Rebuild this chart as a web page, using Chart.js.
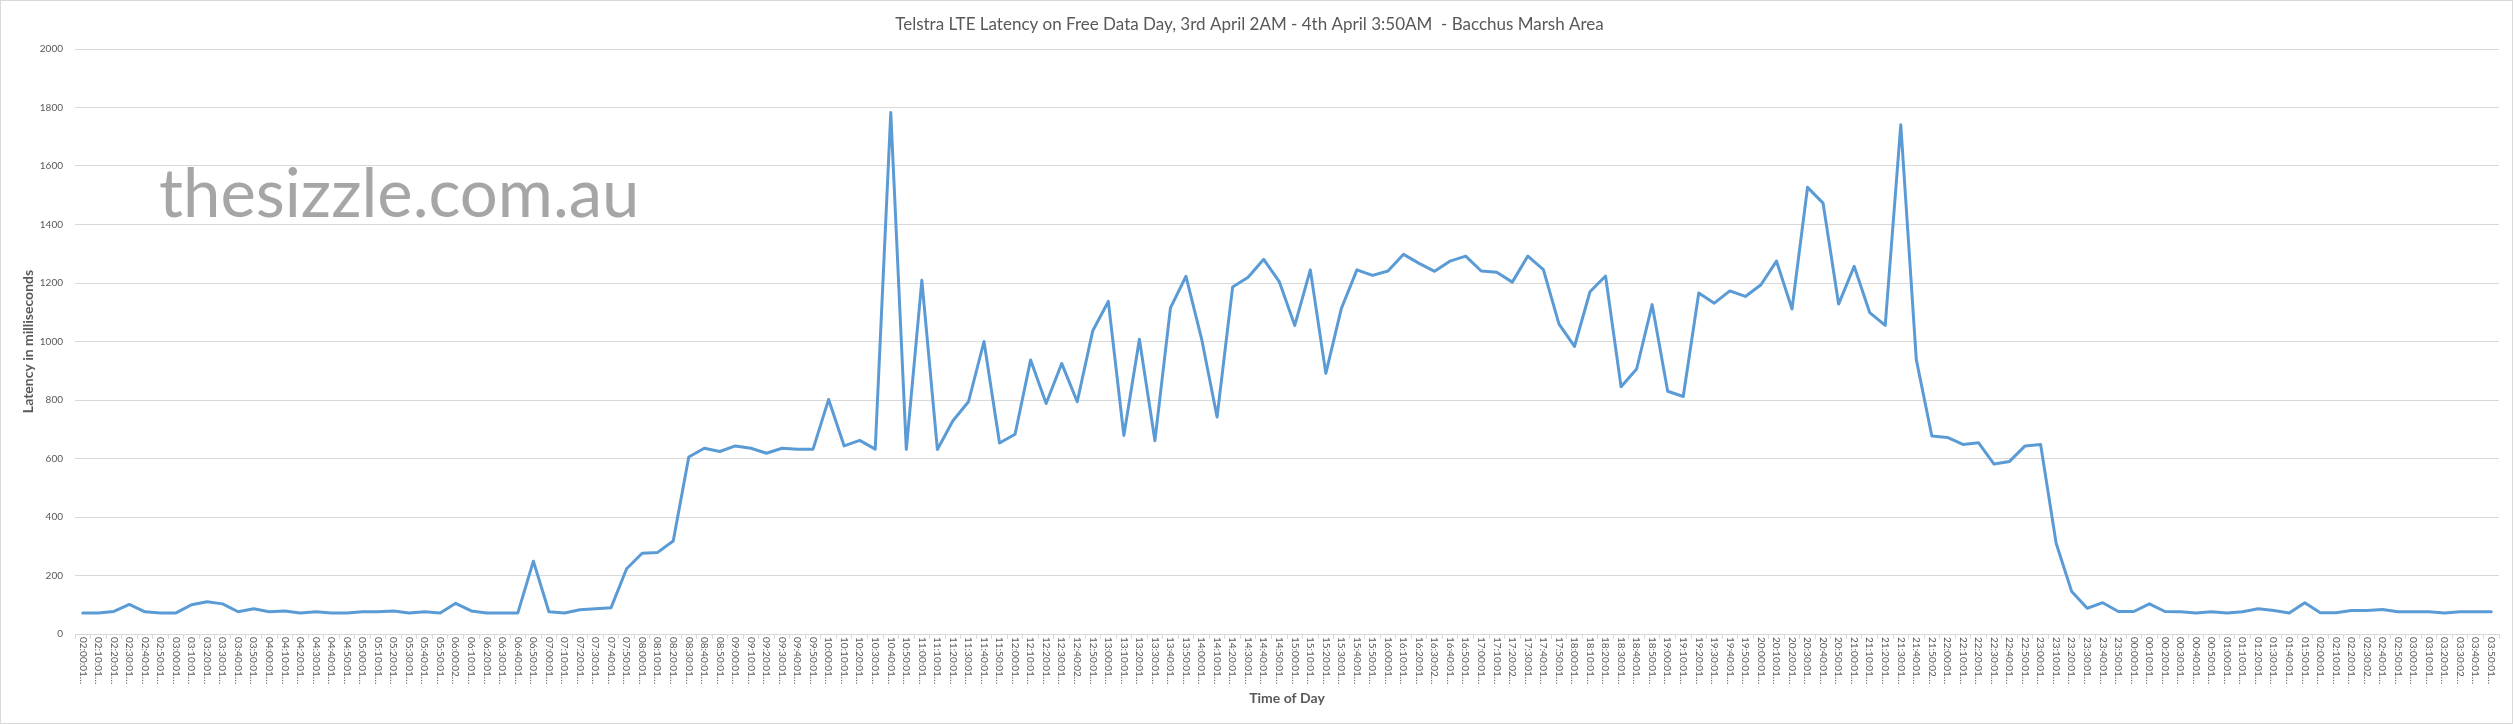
<!DOCTYPE html>
<html>
<head>
<meta charset="utf-8">
<script src="https://cdn.jsdelivr.net/npm/chart.js@4.4.0/dist/chart.umd.min.js"></script>
<style>
html,body{margin:0;padding:0;background:#fff;overflow:hidden}
canvas{display:block}
</style>
</head>
<body>
<canvas id="c" width="2513" height="724"></canvas>
<script>
const chartTitle = "Telstra LTE Latency on Free Data Day, 3rd April 2AM - 4th April 3:50AM  - Bacchus Marsh Area";
const yAxisTitle = "Latency in milliseconds";
const xAxisTitle = "Time of Day";
const watermarkText = "thesizzle.com.au";

const timeLabels = [
"02:00:01…","02:10:01…","02:20:01…","02:30:01…","02:40:01…","02:50:01…",
"03:00:01…","03:10:01…","03:20:01…","03:30:01…","03:40:01…","03:50:01…",
"04:00:01…","04:10:01…","04:20:01…","04:30:01…","04:40:01…","04:50:01…",
"05:00:01…","05:10:01…","05:20:01…","05:30:01…","05:40:01…","05:50:01…",
"06:00:02…","06:10:01…","06:20:01…","06:30:01…","06:40:01…","06:50:01…",
"07:00:01…","07:10:01…","07:20:01…","07:30:01…","07:40:01…","07:50:01…",
"08:00:01…","08:10:01…","08:20:01…","08:30:01…","08:40:01…","08:50:01…",
"09:00:01…","09:10:01…","09:20:01…","09:30:01…","09:40:01…","09:50:01…",
"10:00:01…","10:10:01…","10:20:01…","10:30:01…","10:40:01…","10:50:01…",
"11:00:01…","11:10:01…","11:20:01…","11:30:01…","11:40:01…","11:50:01…",
"12:00:01…","12:10:01…","12:20:01…","12:30:01…","12:40:02…","12:50:01…",
"13:00:01…","13:10:01…","13:20:01…","13:30:01…","13:40:01…","13:50:01…",
"14:00:01…","14:10:01…","14:20:01…","14:30:01…","14:40:01…","14:50:01…",
"15:00:01…","15:10:01…","15:20:01…","15:30:01…","15:40:01…","15:50:01…",
"16:00:01…","16:10:01…","16:20:01…","16:30:02…","16:40:01…","16:50:01…",
"17:00:01…","17:10:01…","17:20:02…","17:30:01…","17:40:01…","17:50:01…",
"18:00:01…","18:10:01…","18:20:01…","18:30:01…","18:40:01…","18:50:01…",
"19:00:01…","19:10:01…","19:20:01…","19:30:01…","19:40:01…","19:50:01…",
"20:00:01…","20:10:01…","20:20:01…","20:30:01…","20:40:01…","20:50:01…",
"21:00:01…","21:10:01…","21:20:01…","21:30:01…","21:40:01…","21:50:02…",
"22:00:01…","22:10:01…","22:20:01…","22:30:01…","22:40:01…","22:50:01…",
"23:00:01…","23:10:01…","23:20:01…","23:30:01…","23:40:01…","23:50:01…",
"00:00:01…","00:10:01…","00:20:01…","00:30:01…","00:40:01…","00:50:01…",
"01:00:01…","01:10:01…","01:20:01…","01:30:01…","01:40:01…","01:50:01…",
"02:00:01…","02:10:01…","02:20:01…","02:30:02…","02:40:01…","02:50:01…",
"03:00:01…","03:10:01…","03:20:01…","03:30:02…","03:40:01…","03:50:01…"
];

const latencyMs = [
72,72,77,101,76,72,
72,100,110,103,76,86,
76,79,72,76,72,72,
76,76,79,72,76,72,
105,79,72,72,72,249,
76,72,83,86,90,223,
276,279,318,605,635,624,
643,635,618,635,632,632,
802,643,662,632,1783,631,
1209,631,729,794,1000,653,
683,937,788,925,794,1037,
1137,679,1008,661,1115,1223,
1010,742,1186,1220,1281,1205,
1055,1245,891,1113,1245,1226,
1241,1298,1267,1240,1275,1292,
1241,1237,1203,1292,1246,1060,
983,1170,1224,845,906,1126,
830,812,1166,1131,1173,1154,
1194,1275,1111,1527,1473,1128,
1257,1099,1055,1741,938,677,
672,648,654,581,590,643,
648,310,145,88,107,77,
77,103,77,76,72,76,
72,76,86,80,72,107,
73,73,80,80,84,76,
76,76,72,76,76,76
];

const yTickValues = [0,200,400,600,800,1000,1200,1400,1600,1800,2000];

const textGray = '#595959';
const gridGray = '#d9d9d9';
const lineBlue = '#5b9bd5';

const framePlugin = {
  id: 'frame',
  beforeDraw(chart) {
    const c = chart.ctx;
    c.save();
    c.fillStyle = '#ffffff';
    c.fillRect(0, 0, chart.width, chart.height);
    c.restore();
  },
  afterDraw(chart) {
    const c = chart.ctx;
    c.save();
    c.strokeStyle = gridGray;
    c.lineWidth = 1;
    c.strokeRect(0.5, 0.5, chart.width - 1, chart.height - 1);
    c.restore();
  }
};

const watermarkPlugin = {
  id: 'watermark',
  beforeDatasetsDraw(chart) {
    const a = chart.chartArea;
    const c = chart.ctx;
    c.save();
    c.font = '67px Lato';
    c.fillStyle = '#a6a6a6';
    c.textAlign = 'left';
    c.textBaseline = 'alphabetic';
    c.fillText(watermarkText, a.left + 84, a.top + 168);
    c.restore();
  }
};

const xLabelPlugin = {
  id: 'xLabels',
  afterDraw(chart) {
    const s = chart.scales.x;
    const c = chart.ctx;
    c.save();
    c.font = '10px Lato';
    c.fillStyle = textGray;
    c.textAlign = 'left';
    c.textBaseline = 'middle';
    timeLabels.forEach((t, i) => {
      const x = s.getPixelForValue(i);
      c.save();
      c.translate(x, s.top + 3);
      c.rotate(Math.PI / 2);
      c.fillText(t, 0, 0);
      c.restore();
    });
    c.restore();
  }
};

Chart.defaults.font.family = 'Lato';

new Chart(document.getElementById('c'), {
  type: 'line',
  data: {
    labels: timeLabels,
    datasets: [{
      data: latencyMs,
      borderColor: lineBlue,
      backgroundColor: lineBlue,
      borderWidth: 3,
      pointRadius: 0,
      tension: 0,
      fill: false,
      borderJoinStyle: 'round',
      borderCapStyle: 'round'
    }]
  },
  options: {
    responsive: false,
    animation: false,
    devicePixelRatio: 1,
    layout: { padding: { left: 0, right: 14, top: 0, bottom: 0 } },
    plugins: {
      legend: { display: false },
      tooltip: { enabled: false },
      title: {
        display: true,
        text: chartTitle,
        color: textGray,
        font: { family: 'Lato', size: 17, weight: 'normal' },
        padding: { top: 14, bottom: 14.6 }
      }
    },
    scales: {
      x: {
        type: 'category',
        offset: true,
        grid: { offset: true, drawOnChartArea: false, drawTicks: true, tickLength: 5, color: gridGray },
        border: { display: true, color: gridGray, width: 1 },
        ticks: { display: false, autoSkip: false },
        title: {
          display: true, text: xAxisTitle, color: textGray,
          font: { family: 'Lato', size: 14, weight: 'bold' },
          padding: { top: 0, bottom: 17 }
        },
        afterFit(scale) { scale.height = 90; }
      },
      y: {
        min: 0, max: 2000,
        afterBuildTicks(scale) { scale.ticks = yTickValues.map(v => ({ value: v })); },
        grid: { color: gridGray, drawTicks: false },
        border: { display: false },
        ticks: {
          color: textGray,
          font: { family: 'Lato', size: 10 },
          padding: 12,
          callback: (v) => String(v)
        },
        title: {
          display: true, text: yAxisTitle, color: textGray,
          font: { family: 'Lato', size: 14, weight: 'bold' },
          padding: { top: 20, bottom: 0 }
        },
        afterFit(scale) { scale.width = 75; }
      }
    }
  },
  plugins: [framePlugin, watermarkPlugin, xLabelPlugin]
});
</script>
</body>
</html>
